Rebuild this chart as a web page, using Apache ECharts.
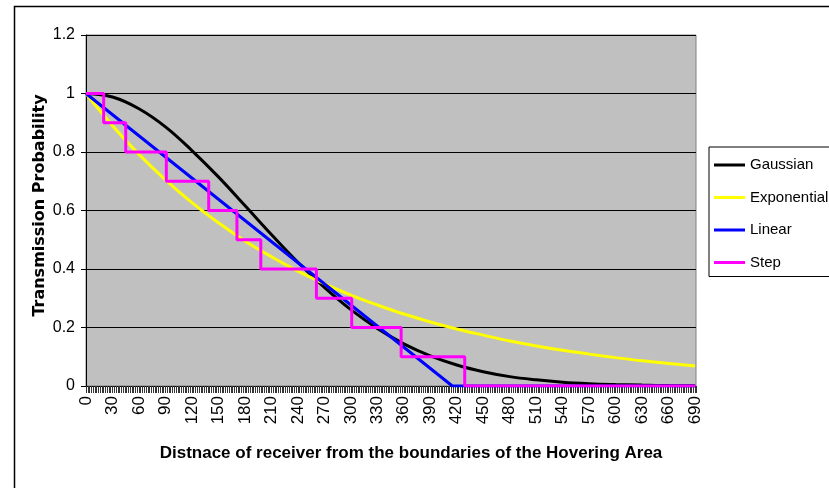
<!DOCTYPE html>
<html><head><meta charset="utf-8">
<script src="https://cdn.jsdelivr.net/npm/echarts@6/dist/echarts.min.js"></script>
<style>html,body{margin:0;padding:0;background:#fff}#c{width:829px;height:488px}</style>
</head><body><div id="c"></div>
<script>
// ---- data ----
const sampleX = [0,30,60,90,120,150,180,210,240,270,300,330,360,390,420,450,480,510,540,570,600,630,660,690];
const gaussian = [1,0.988,0.948,0.886,0.805,0.715,0.617,0.518,0.423,0.337,0.261,0.197,0.144,0.103,0.072,0.049,0.032,0.021,0.013,0.008,0.005,0.003,0.0015,0.001];
const exponential = [1,0.89,0.792,0.705,0.627,0.558,0.496,0.442,0.393,0.35,0.311,0.277,0.246,0.219,0.195,0.174,0.154,0.137,0.122,0.109,0.097,0.086,0.077,0.068];
const linearX = [0,415,690];
const linearY = [1,0,0];
const stepX = [0,20,45,91,139,171,198,261,301,357,429,690];
const stepY = [1,0.9,0.8,0.7,0.6,0.5,0.4,0.3,0.2,0.1,0,0];
const seriesNames = ['Gaussian','Exponential','Linear','Step'];
const seriesColors = ['#000000','#FFFF00','#0000FF','#FF00FF'];
const xTickStep = 30;
const yTicks = [0,0.2,0.4,0.6,0.8,1,1.2];
const xTitle = 'Distnace of receiver from the boundaries of the Hovering Area';
const yTitle = 'Transmission Probability';

const pairs = (xs, ys) => xs.map((x, i) => [x, ys[i]]);
const FONT = '"Liberation Sans", Arial, sans-serif';

const chart = echarts.init(document.getElementById('c'), null, {renderer: 'canvas'});
chart.setOption({
  backgroundColor: '#ffffff',
  animation: false,
  graphic: [{
    type: 'rect', left: 12, top: 4, z: -10, silent: true,
    shape: {x: 0, y: 0, width: 900, height: 600},
    style: {fill: 'none', stroke: '#000', lineWidth: 1.5}
  }],
  grid: {left: 86, right: 133, top: 35, bottom: 102, show: true,
    backgroundColor: '#C0C0C0', borderColor: '#808080', borderWidth: 1},
  legend: {
    orient: 'vertical', left: 709, top: 147,
    padding: [10, 20, 6, 5], itemGap: 16.5,
    itemWidth: 31, itemHeight: 3, icon: 'rect',
    borderColor: '#000', borderWidth: 1, backgroundColor: '#fff',
    textStyle: {fontFamily: FONT, fontSize: 15, color: '#000', lineHeight: 16},
    data: seriesNames
  },
  xAxis: {
    type: 'value', min: 0, max: 691, interval: xTickStep,
    name: xTitle, nameLocation: 'middle', nameGap: 59,
    nameTextStyle: {fontFamily: FONT, fontWeight: 'bold', fontSize: 17, color: '#000', padding: [0, 0, 0, 40]},
    axisLine: {show: true, lineStyle: {color: '#000', width: 1}},
    axisTick: {show: true, length: 7, lineStyle: {color: '#333'}},
    minorTick: {show: true, splitNumber: 15, length: 7, lineStyle: {color: '#333'}},
    axisLabel: {rotate: 90, margin: 10, fontFamily: FONT, fontSize: 17, color: '#000', showMaxLabel: false},
    splitLine: {show: false}
  },
  yAxis: {
    type: 'value', min: yTicks[0], max: yTicks[yTicks.length - 1], interval: yTicks[1] - yTicks[0],
    name: yTitle, nameLocation: 'middle', nameGap: 38, nameMoveOverlap: false,
    nameTextStyle: {fontFamily: '"DejaVu Sans", sans-serif', fontWeight: 'bold', fontSize: 16, color: '#000', padding: [0, 0, 0, 10]},
    axisLine: {show: true, lineStyle: {color: '#000', width: 1}},
    axisTick: {show: true, length: 5, lineStyle: {color: '#000'}},
    axisLabel: {margin: 11, fontFamily: FONT, fontSize: 16, color: '#000'},
    splitLine: {show: true, lineStyle: {color: '#000', width: 1}}
  },
  series: [
    {name: seriesNames[0], type: 'line', data: pairs(sampleX, gaussian), smooth: 0.4,
      showSymbol: false, lineStyle: {color: seriesColors[0], width: 3}, itemStyle: {color: seriesColors[0]}},
    {name: seriesNames[1], type: 'line', data: pairs(sampleX, exponential), smooth: 0.4,
      showSymbol: false, lineStyle: {color: seriesColors[1], width: 3}, itemStyle: {color: seriesColors[1]}},
    {name: seriesNames[2], type: 'line', data: pairs(linearX, linearY),
      showSymbol: false, lineStyle: {color: seriesColors[2], width: 3}, itemStyle: {color: seriesColors[2]}},
    {name: seriesNames[3], type: 'line', data: pairs(stepX, stepY), step: 'end',
      showSymbol: false, lineStyle: {color: seriesColors[3], width: 3}, itemStyle: {color: seriesColors[3]}}
  ]
});
</script></body></html>
